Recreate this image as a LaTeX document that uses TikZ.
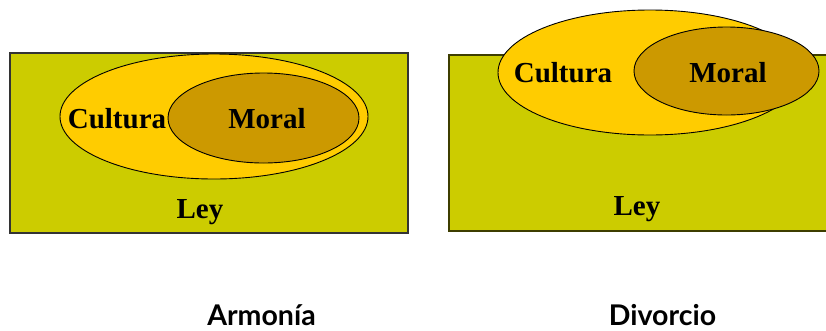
\documentclass[tikz,border=0pt]{standalone}
\usepackage{fontspec}
\setmainfont{Liberation Serif}
\newfontfamily\captionfont{Lato}
\definecolor{leycolor}{HTML}{CCCC00}
\definecolor{culturacolor}{HTML}{FFCC00}
\definecolor{moralcolor}{HTML}{CC9900}
\begin{document}
\begin{tikzpicture}[x=1pt, y=-1pt,
        inner/.style = {font=\fontsize{29}{32}\selectfont\bfseries, anchor=base, inner sep=0pt},
        caption/.style = {font=\captionfont\fontsize{28.5}{32}\selectfont\bfseries, anchor=base, inner sep=0pt}]
        \useasboundingbox (0, 0) rectangle (826, 330);
        % Armonia
        \filldraw [fill=leycolor, draw=black!80, line width=1.2pt] (10, 53) rectangle (408, 233);
        \filldraw [fill=culturacolor, draw=black, line width=0.9pt] (214, 116.5) ellipse [x radius=154, y radius=62.5];
        \filldraw [fill=moralcolor, draw=black, line width=0.9pt] (263.5, 118) ellipse [x radius=95.5, y radius=45];
        \node [inner] (cultura1) at (117, 128) {Cultura};
        \node [inner] (moral1) at (267, 128) {Moral};
        \node [inner] (ley1) at (200, 218) {Ley};
        % Divorcio
        \filldraw [fill=leycolor, draw=black!70!leycolor, line width=1.2pt] (449, 55) rectangle (830, 231);
        \filldraw [fill=culturacolor, draw=black, line width=0.9pt] (650, 72.5) ellipse [x radius=152, y radius=62.5];
        \filldraw [fill=moralcolor, draw=black, line width=0.9pt] (726.5, 71) ellipse [x radius=92.5, y radius=44];
        \node [inner] (cultura2) at (563, 82) {Cultura};
        \node [inner] (moral2) at (728, 82) {Moral};
        \node [inner] (ley2) at (637, 215) {Ley};
        \node [caption] (armonia) at (261.5, 325) {Armonía};
        \node [caption] (divorcio) at (662.5, 325) {Divorcio};
    \end{tikzpicture}
\end{document}
